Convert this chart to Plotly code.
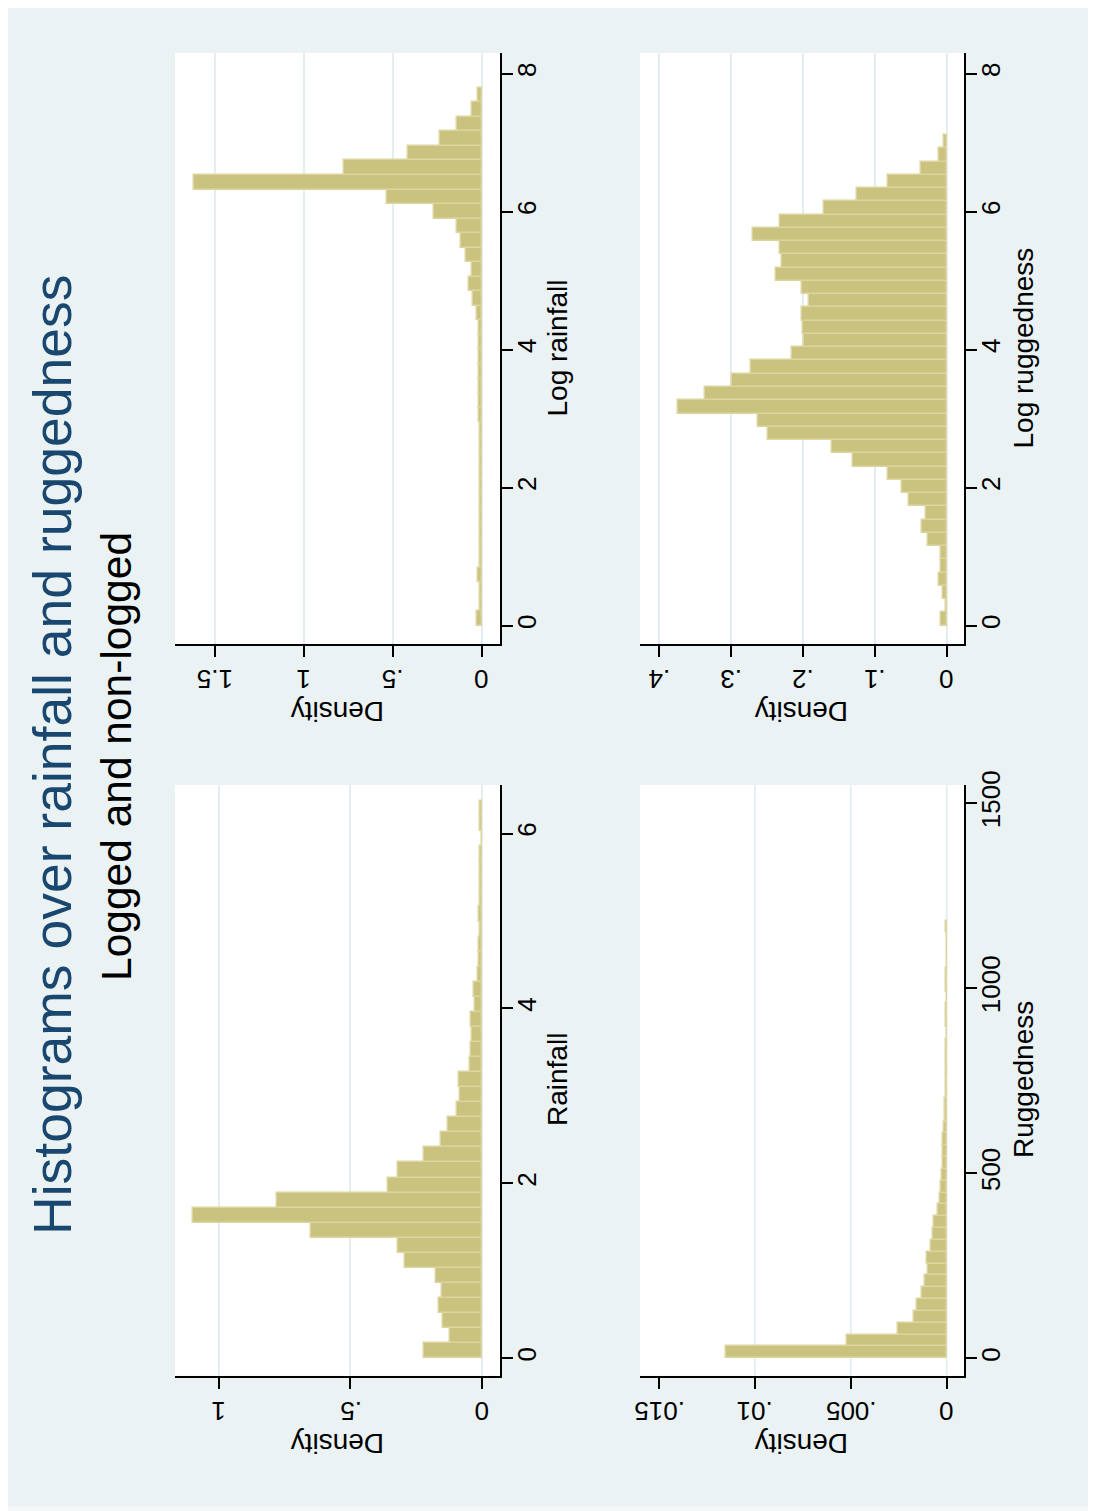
import plotly.graph_objects as go

# ---------------- data (densities) ----------------
lograin_start = 0.0
lograin_width = 0.2107
lograin_density = [0.025, 0.008, 0.008, 0.020, 0.008, 0.008, 0.010, 0.010, 0.010, 0.010,
                   0.010, 0.012, 0.012, 0.012, 0.015, 0.015, 0.015, 0.015, 0.017, 0.017,
                   0.017, 0.025, 0.049, 0.071, 0.056, 0.090, 0.118, 0.137, 0.268, 0.534,
                   1.620, 0.772, 0.416, 0.234, 0.140, 0.053, 0.019]

rain_start = 0.0
rain_width = 0.1722
rain_density = [0.220, 0.122, 0.147, 0.165, 0.151, 0.176, 0.292, 0.321, 0.651, 1.098,
                0.781, 0.359, 0.321, 0.220, 0.156, 0.130, 0.094, 0.084, 0.086, 0.047,
                0.042, 0.039, 0.042, 0.027, 0.030, 0.014, 0.012, 0.011, 0.009, 0.013,
                0.009, 0.008, 0.009, 0.007, 0.0, 0.007, 0.007]

logrug_start = 0.0
logrug_width = 0.1922
logrug_density = [0.0075, 0.0015, 0.0045, 0.0103, 0.0083, 0.0075, 0.0264, 0.0347, 0.029, 0.053,
                  0.0625, 0.082, 0.130, 0.160, 0.248, 0.2625, 0.374, 0.336, 0.298, 0.272,
                  0.215, 0.199, 0.200, 0.201, 0.191, 0.201, 0.2375, 0.229, 0.2315, 0.270,
                  0.2325, 0.170, 0.125, 0.081, 0.0357, 0.0103, 0.0042]

rug_start = 0.0
rug_width = 31.97
rug_density = [0.01151, 0.00521, 0.00255, 0.00170, 0.00156, 0.00130, 0.00115, 0.00097, 0.00104, 0.00083,
               0.00071, 0.00065, 0.00045, 0.00035, 0.00031, 0.00026, 0.00018, 0.00018, 0.00018, 0.00013,
               0.00008, 0.00007, 0.00006, 0.00006, 0.00005, 0.00005, 0.00004, 0.0, 0.00004, 0.00004,
               0.0, 0.00004, 0.00004, 0.0, 0.0, 0.0, 0.00004]

lograin_dens_ticks = [0, 0.5, 1, 1.5]
lograin_dens_text = ["0", ".5", "1", "1.5"]
rain_dens_ticks = [0, 0.5, 1]
rain_dens_text = ["0", ".5", "1"]
logrug_dens_ticks = [0, 0.1, 0.2, 0.3, 0.4]
logrug_dens_text = ["0", ".1", ".2", ".3", ".4"]
rug_dens_ticks = [0, 0.005, 0.01, 0.015]
rug_dens_text = ["0", ".005", ".01", ".015"]
log_var_ticks = [0, 2, 4, 6, 8]
rain_var_ticks = [0, 2, 4, 6]
rug_var_ticks = [0, 500, 1000, 1500]

title_text = "Histograms over rainfall and ruggedness"
subtitle_text = "Logged and non-logged"

# ---------------- styling ----------------
W, H = 1096, 1511
OFF = 8  # the page body margin shifts the figure by 8 px
FONT = "Liberation Sans, Arial, sans-serif"
BG = "#EAF2F3"
GRID = "#E4EEF0"
FILL = "rgb(202,194,127)"
EDGE = "rgb(220,213,160)"
TICKF = 26
TITLEF = 28


def px_x(p):
    return (p - OFF) / W


def px_y(p):
    return 1 - (p - OFF) / H


def centers(start, width, n):
    return [start + width * (i + 0.5) for i in range(n)]


fig = go.Figure()

panels = [
    (lograin_density, lograin_start, lograin_width, "x", "y"),
    (logrug_density, logrug_start, logrug_width, "x2", "y2"),
    (rain_density, rain_start, rain_width, "x3", "y3"),
    (rug_density, rug_start, rug_width, "x4", "y4"),
]
for dens, st, w, xa, ya in panels:
    fig.add_trace(go.Bar(
        orientation="h",
        y=centers(st, w, len(dens)),
        x=dens,
        width=w,
        marker=dict(color=FILL, line=dict(color=EDGE, width=1.5)),
        xaxis=xa, yaxis=ya,
        showlegend=False,
        hoverinfo="x+y",
    ))

left_dom = [px_x(175), px_x(500)]
right_dom = [px_x(640), px_x(964.3)]
top_dom = [px_y(644), px_y(53)]
bot_dom = [px_y(1375.7), px_y(785)]


def dens_axis(dom, rng, tv, anchor, grid=True):
    return dict(
        domain=dom, range=rng, anchor=anchor, side="bottom", automargin=False,
        showline=True, linecolor="black", linewidth=1.6, mirror=False,
        ticks="outside", ticklen=11, tickwidth=1.5, tickcolor="black",
        tickmode="array", tickvals=tv, showticklabels=False,
        showgrid=grid, gridcolor=GRID, gridwidth=1.8, zeroline=False,
        fixedrange=True,
    )


def var_axis(dom, rng, tv, anchor):
    return dict(
        domain=dom, range=rng, anchor=anchor, side="right", automargin=False,
        showline=True, linecolor="black", linewidth=1.6,
        ticks="outside", ticklen=11, tickwidth=1.5, tickcolor="black",
        tickmode="array", tickvals=tv, ticktext=[str(v) for v in tv], tickangle=-90,
        ticklabelstandoff=-8,
        tickfont=dict(size=TICKF, color="black", family=FONT),
        showgrid=False, zeroline=False, fixedrange=True,
    )


fig.update_layout(
    width=W, height=H, autosize=False,
    margin=dict(l=0, r=0, t=0, b=0, pad=0, autoexpand=False),
    paper_bgcolor=BG, plot_bgcolor="white",
    font=dict(family=FONT, color="black"),
    barmode="overlay", bargap=0, showlegend=False,
    xaxis=dens_axis(left_dom, [1.725, -0.103], lograin_dens_ticks, "y"),
    yaxis=var_axis(top_dom, [-0.265, 8.30], log_var_ticks, "x"),
    xaxis2=dens_axis(right_dom, [0.4266, -0.0245], logrug_dens_ticks, "y2"),
    yaxis2=var_axis(top_dom, [-0.265, 8.30], log_var_ticks, "x2"),
    xaxis3=dens_axis(left_dom, [1.167, -0.0684], rain_dens_ticks, "y3"),
    yaxis3=var_axis(bot_dom, [-0.2, 6.555], rain_var_ticks, "x3"),
    xaxis4=dens_axis(right_dom, [0.01599, -0.000918], rug_dens_ticks, "y4", grid=False),
    yaxis4=var_axis(bot_dom, [-47, 1549], rug_var_ticks, "x4"),
)

# grid lines of the ruggedness panel (Stata leaves out the one at .015)
for v in rug_dens_ticks[:3]:
    fig.add_shape(type="line", xref="x4", yref="y4 domain", x0=v, x1=v, y0=0, y1=1,
                  line=dict(color=GRID, width=1.8), layer="below")

# light outer frame of the graph region
fig.add_shape(type="rect", xref="paper", yref="paper",
              x0=px_x(2), x1=px_x(1093.5), y0=px_y(1508.5), y1=px_y(2),
              line=dict(color="#F4F8F9", width=4), layer="below")

ann = []
ann.append(dict(text=title_text, x=px_x(52), y=px_y(755), textangle=-90,
                xref="paper", font=dict(size=53.5, color="#1A476F", family=FONT)))
ann.append(dict(text=subtitle_text, x=px_x(116), y=px_y(757), textangle=-90,
                xref="paper", font=dict(size=42.5, color="black", family=FONT)))

# density tick labels (upside down, as in the rotated Stata graph)
dens_label_sets = [
    ("x", lograin_dens_ticks, lograin_dens_text, 679),
    ("x2", logrug_dens_ticks, logrug_dens_text, 679),
    ("x3", rain_dens_ticks, rain_dens_text, 1411),
    ("x4", rug_dens_ticks, rug_dens_text, 1411),
]
for xr, tv, tt, yc in dens_label_sets:
    for v, t in zip(tv, tt):
        ann.append(dict(text=t, x=v, xref=xr, y=px_y(yc), textangle=180,
                        font=dict(size=TICKF, color="black", family=FONT)))

for xc in (337.5, 802):
    for yc in (712, 1443.5):
        ann.append(dict(text="Density", x=px_x(xc), y=px_y(yc), textangle=180, xref="paper",
                        font=dict(size=TITLEF, color="black", family=FONT)))
ann.append(dict(text="Log rainfall", x=px_x(557), y=px_y(348.5), textangle=-90, xref="paper",
                font=dict(size=TITLEF, color="black", family=FONT)))
ann.append(dict(text="Log ruggedness", x=px_x(1023), y=px_y(348.5), textangle=-90, xref="paper",
                font=dict(size=TITLEF, color="black", family=FONT)))
ann.append(dict(text="Rainfall", x=px_x(557), y=px_y(1080), textangle=-90, xref="paper",
                font=dict(size=TITLEF, color="black", family=FONT)))
ann.append(dict(text="Ruggedness", x=px_x(1023), y=px_y(1080), textangle=-90, xref="paper",
                font=dict(size=TITLEF, color="black", family=FONT)))
for a in ann:
    a.update(yref="paper", showarrow=False, xanchor="center", yanchor="middle")
fig.update_layout(annotations=ann)

fig.write_html("out.html")
